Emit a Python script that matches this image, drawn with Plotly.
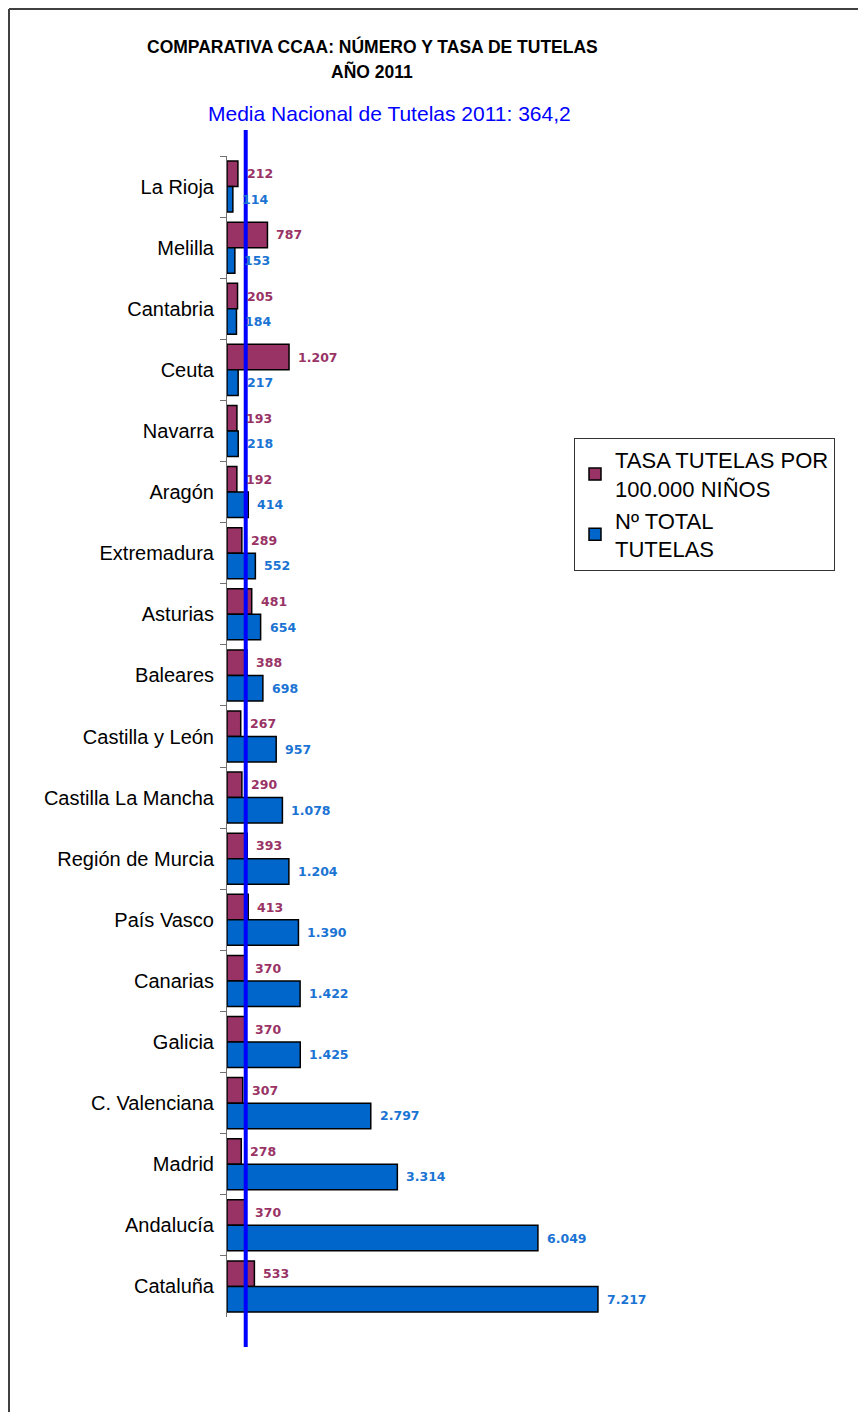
import plotly.graph_objects as go

categories = ["La Rioja", "Melilla", "Cantabria", "Ceuta", "Navarra", "Aragón",
              "Extremadura", "Asturias", "Baleares", "Castilla y León",
              "Castilla La Mancha", "Región de Murcia", "País Vasco", "Canarias",
              "Galicia", "C. Valenciana", "Madrid", "Andalucía", "Cataluña"]
tasa = [212, 787, 205, 1207, 193, 192, 289, 481, 388, 267, 290, 393, 413, 370, 370, 307, 278, 370, 533]
total = [114, 153, 184, 217, 218, 414, 552, 654, 698, 957, 1078, 1204, 1390, 1422, 1425, 2797, 3314, 6049, 7217]
media_nacional = 364.2

name_tasa = "TASA TUTELAS POR<br>100.000 NIÑOS"
name_total = "Nº TOTAL<br>TUTELAS"

PURPLE = "#993366"
BLUE = "#0066CC"
PURPLE_TXT = "#993366"
BLUE_TXT = "#1B74D3"

OFF = 8  # page body margin
W, H = 866, 1412
ML, MT = 227 - OFF, 156 - OFF
PW, PH = 633, 1161
MR = W - ML - PW
MB = H - MT - PH


def px_y(y):
    # y is a page pixel position in the reference
    return 1 + (MT - (y - OFF)) / PH


def px_x(x):
    return ((x - OFF) - ML) / PW


def fmt(v):
    return f"{v:,}".replace(",", ".")


fig = go.Figure()
fig.add_trace(go.Bar(y=categories, x=tasa, orientation="h", name=name_tasa,
                     marker=dict(color=PURPLE, line=dict(color="black", width=1.5))))
fig.add_trace(go.Bar(y=categories, x=total, orientation="h", name=name_total,
                     marker=dict(color=BLUE, line=dict(color="black", width=1.5))))

annotations = []
bargap = 0.165
half = (1 - bargap) * (PH / len(categories)) / 4
lab_font = dict(family="DejaVu Sans", size=12.5, weight="bold")
for c, v in zip(categories, tasa):
    annotations.append(dict(x=v, y=c, xref="x", yref="y", text=fmt(v), showarrow=False,
                            xanchor="left", yanchor="middle", xshift=7, yshift=half,
                            font=dict(lab_font, color=PURPLE_TXT)))
for c, v in zip(categories, total):
    annotations.append(dict(x=v, y=c, xref="x", yref="y", text=fmt(v), showarrow=False,
                            xanchor="left", yanchor="middle", xshift=7, yshift=-half,
                            font=dict(lab_font, color=BLUE_TXT)))

annotations.append(dict(x=px_x(372), y=px_y(47), xref="paper", yref="paper",
                        text="<b>COMPARATIVA CCAA: NÚMERO Y TASA DE TUTELAS</b>", showarrow=False,
                        xanchor="center", yanchor="middle",
                        font=dict(family="Arial, Liberation Sans", size=17.5, color="black")))
annotations.append(dict(x=px_x(372), y=px_y(71), xref="paper", yref="paper",
                        text="<b>AÑO 2011</b>", showarrow=False,
                        xanchor="center", yanchor="middle",
                        font=dict(family="Arial, Liberation Sans", size=17.5, color="black")))
annotations.append(dict(x=px_x(389), y=px_y(113), xref="paper", yref="paper",
                        text="Media Nacional de Tutelas 2011: 364,2", showarrow=False,
                        xanchor="center", yanchor="middle",
                        font=dict(family="Arial, Liberation Sans", size=21, color="#0000FF")))

shapes = [
    # mean line
    dict(type="line", xref="x", yref="paper", x0=media_nacional, x1=media_nacional,
         y0=px_y(1347), y1=px_y(130), line=dict(color="#0000FF", width=4)),
    # outer frame
    dict(type="line", xref="paper", yref="paper", x0=px_x(9), x1=px_x(880),
         y0=px_y(9), y1=px_y(9), line=dict(color="#404040", width=2)),
    dict(type="line", xref="paper", yref="paper", x0=px_x(9), x1=px_x(9),
         y0=px_y(9), y1=px_y(1430), line=dict(color="#404040", width=2)),
]

fig.update_layout(
    width=W, height=H,
    margin=dict(l=ML, r=MR, t=MT, b=MB),
    paper_bgcolor="white", plot_bgcolor="white",
    barmode="group", bargap=bargap, bargroupgap=0,
    showlegend=True,
    legend=dict(x=px_x(574), y=px_y(438), xanchor="left", yanchor="top",
                bordercolor="#333333", borderwidth=1, bgcolor="white",
                font=dict(family="Arial, Liberation Sans", size=22, color="black"),
                tracegroupgap=10, itemwidth=30),
    annotations=annotations,
    shapes=shapes,
    font=dict(family="Arial, Liberation Sans"),
)
fig.update_xaxes(range=[0, PW / 0.0514], visible=False, showgrid=False, zeroline=False)
fig.update_yaxes(autorange="reversed", showgrid=False, zeroline=False,
                 showline=True, linecolor="#707070", linewidth=1,
                 ticks="outside", ticklen=6, tickcolor="#707070", tickson="boundaries",
                 ticklabelstandoff=8,
                 tickfont=dict(family="Arial, Liberation Sans", size=20, color="black"))

fig.write_html("out.html")
